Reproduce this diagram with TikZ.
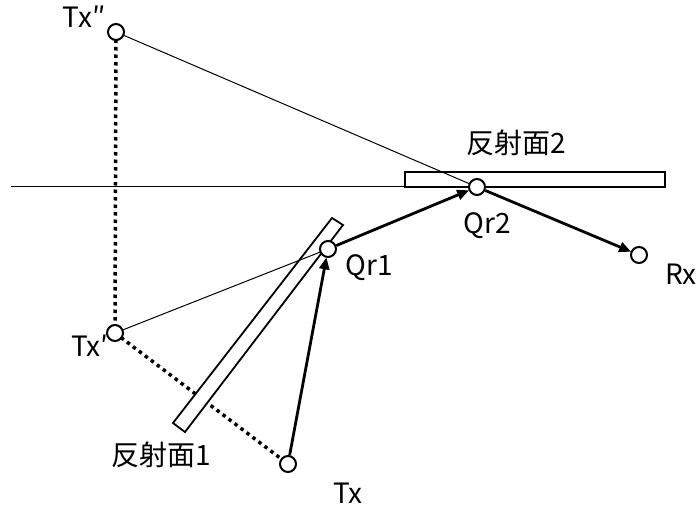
\documentclass[tikz,border=0pt]{standalone}
\usepackage{fontspec}
\setmainfont{Noto Sans CJK JP}
\usetikzlibrary{arrows.meta}
\begin{document}
\begin{tikzpicture}[x=1pt,y=-1pt,
  pt/.style={circle,draw,line width=2pt,fill=white,minimum size=16pt,inner sep=0pt},
  lbl/.style={font=\fontsize{28}{32}\selectfont,inner sep=0pt},
  thinray/.style={line width=1pt},
  ray/.style={line width=2.8pt,-{Triangle[length=12pt,width=10pt]},shorten >=-0.5pt},
  dotline/.style={line width=3.5pt,dash pattern=on 3.5pt off 4pt},
  plane/.style={draw,line width=1.8pt,fill=white}]
\useasboundingbox (0,0) rectangle (696,506);
% coordinates
\coordinate (txpp) at (116,32);
\coordinate (txp) at (115,333);
\coordinate (tx) at (288,464);
\coordinate (q1) at (328,249);
\coordinate (q2) at (477,187);
\coordinate (rx) at (639,255);
\coordinate (hl) at (11,186);
\coordinate (hr) at (405,186);
% thin construction lines
\draw[thinray] (hl) -- (hr);
\draw[dotline] (txpp) -- (txp);
\draw[dotline] (txp) -- (tx);
% plane 1
\draw[plane] (173,423) -- (185,432) -- (343,225) -- (332,218) -- cycle;
\draw[thinray] (txp) -- (q1);
% plane 2
\draw[plane] (405,172) rectangle (665,187);
\draw[thinray] (txpp) -- (q2);
% nodes
\node[pt] (Ntxpp) at (txpp) {};
\node[pt] (Ntxp) at (txp) {};
\node[pt] (Ntx) at (tx) {};
\node[pt] (Nq1) at (q1) {};
\node[pt] (Nq2) at (q2) {};
\node[pt] (Nrx) at (rx) {};
% rays
\draw[ray] (Ntx) -- (Nq1);
\draw[ray] (Nq1) -- (Nq2);
\draw[ray] (Nq2) -- (Nrx);
% labels
\node[lbl] (Ltxpp) at (84,17) {Tx″};
\node[lbl] (Ltxp) at (90,346) {Tx′};
\node[lbl] (Ltx) at (348,493) {Tx};
\node[lbl] (Lq1) at (369,268) {Qr1};
\node[lbl] (Lq2) at (487,226) {Qr2};
\node[lbl] (Lrx) at (681,274) {Rx};
\node[lbl] (Lp2) at (516,143) {反射面2};
\node[lbl] (Lp1) at (161,455) {反射面1};
\end{tikzpicture}
\end{document}
